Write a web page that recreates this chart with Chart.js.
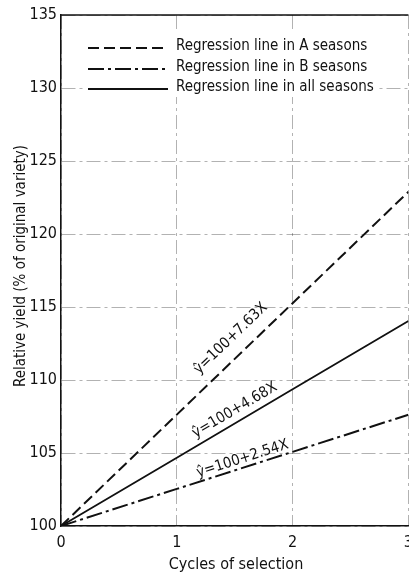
<!DOCTYPE html>
<html>
<head>
<meta charset="utf-8">
<script src="https://cdn.jsdelivr.net/npm/chart.js@4"></script>
<style>
  html, body { margin: 0; padding: 0; background: #fff; overflow: hidden; }
  #wrap { width: 409px; height: 577px; overflow: hidden; }
  canvas { display: block; }
</style>
</head>
<body>
<div id="wrap"><canvas id="c" width="420" height="577"></canvas></div>
<script>
// Cycles of selection (x) and relative yield of each regression line (y)
const cycles = [0, 1, 2, 3];
const yieldA = [100, 107.63, 115.26, 122.89];
const yieldB = [100, 102.54, 105.08, 107.62];
const yieldAll = [100, 104.68, 109.36, 114.04];

const xTickValues = [0, 1, 2, 3];
const yTickValues = [100, 105, 110, 115, 120, 125, 130, 135];

const seriesNames = [
  'Regression line in A seasons',
  'Regression line in B seasons',
  'Regression line in all seasons'
];
const equations = ['ŷ=100+7.63X', 'ŷ=100+2.54X', 'ŷ=100+4.68X'];

const xTitle = 'Cycles of selection';
const yTitle = 'Relative yield (% of original variety)';

// Styles
const INK = '#111';
const TEXT_FONT = "'DejaVu Sans Condensed', sans-serif";
const GRID = 'rgba(0,0,0,0.3)';
const GRID_DASH = [14, 4, 3, 4];
const lineStyles = [
  { dash: [11, 5], width: 2 },
  { dash: [16, 4, 3, 4], width: 2 },
  { dash: [], width: 1.8 }
];
// where each equation sits along its line: data x and distance above the line (px)
const eqPlacement = [
  { at: 1.57, lift: 17.5 },
  { at: 1.59, lift: 8.6 },
  { at: 1.55, lift: 11.4 }
];

const seriesValues = [yieldA, yieldB, yieldAll];
const datasets = seriesValues.map((vals, i) => ({
  label: seriesNames[i],
  data: cycles.map((c, k) => ({ x: c, y: vals[k] })),
  borderColor: INK,
  borderWidth: lineStyles[i].width,
  borderDash: lineStyles[i].dash,
  pointRadius: 0,
  fill: false,
  tension: 0
}));

const decorations = {
  id: 'decorations',
  afterDatasetsDraw(chart) {
    const ctx = chart.ctx;
    const xs = chart.scales.x, ys = chart.scales.y;
    const area = chart.chartArea;

    // top frame line
    ctx.save();
    ctx.strokeStyle = INK;
    ctx.lineWidth = 1.5;
    ctx.beginPath();
    ctx.moveTo(area.left, area.top);
    ctx.lineTo(area.right, area.top);
    ctx.stroke();

    // legend block with a white backing over the grid
    ctx.fillStyle = '#fff';
    ctx.fillRect(86, 31, 290, 66);
    const sampleX0 = 88, sampleX1 = 168, textX = 176;
    const rowY = [48, 69, 89];
    ctx.font = '15px ' + TEXT_FONT;
    ctx.textBaseline = 'middle';
    ctx.textAlign = 'left';
    ctx.fillStyle = INK;
    rowY.forEach((y, i) => {
      ctx.lineWidth = lineStyles[i].width;
      ctx.setLineDash(lineStyles[i].dash);
      ctx.beginPath();
      ctx.moveTo(sampleX0, y);
      ctx.lineTo(sampleX1, y);
      ctx.stroke();
      ctx.setLineDash([]);
      ctx.fillText(seriesNames[i], textX, y - 2);
    });

    // equation labels along each regression line
    ctx.font = '15px ' + TEXT_FONT;
    ctx.textAlign = 'center';
    ctx.textBaseline = 'middle';
    seriesValues.forEach((vals, i) => {
      const p0x = xs.getPixelForValue(cycles[0]), p0y = ys.getPixelForValue(vals[0]);
      const p1x = xs.getPixelForValue(cycles[3]), p1y = ys.getPixelForValue(vals[3]);
      const ang = Math.atan2(p1y - p0y, p1x - p0x);
      const t = eqPlacement[i].at;
      const slope = (vals[3] - vals[0]) / (cycles[3] - cycles[0]);
      const px = xs.getPixelForValue(t);
      const py = ys.getPixelForValue(vals[0] + slope * t);
      const d = eqPlacement[i].lift;
      const cx = px + Math.sin(ang) * d;
      const cy = py - Math.cos(ang) * d;
      ctx.save();
      ctx.translate(cx, cy);
      ctx.rotate(ang);
      ctx.fillText(equations[i], 0, 0);
      ctx.restore();
    });

    // axis titles
    ctx.font = '16px ' + TEXT_FONT;
    ctx.textAlign = 'center';
    ctx.textBaseline = 'middle';
    ctx.fillText(xTitle, 236, 565);
    ctx.save();
    ctx.translate(21, 266);
    ctx.rotate(-Math.PI / 2);
    ctx.font = '15px ' + TEXT_FONT;
    ctx.fillText(yTitle, 0, 0);
    ctx.restore();
    ctx.restore();
  }
};

const tickFont = { family: "'DejaVu Sans Condensed', sans-serif", size: 16 };

new Chart(document.getElementById('c'), {
  type: 'line',
  data: { datasets },
  options: {
    responsive: false,
    devicePixelRatio: 1,
    animation: false,
    layout: { padding: { left: 0, top: 15, right: 8, bottom: 0 } },
    plugins: { legend: { display: false }, tooltip: { enabled: false } },
    scales: {
      x: {
        type: 'linear',
        min: 0, max: 3,
        afterFit: s => { s.height = 51; },
        afterBuildTicks: s => { s.ticks = xTickValues.map(v => ({ value: v })); },
        ticks: { color: INK, font: tickFont, padding: 7, maxRotation: 0 },
        grid: { color: GRID, lineWidth: 1, drawTicks: false },
        border: { display: true, color: INK, width: 1.5, dash: GRID_DASH }
      },
      y: {
        type: 'linear',
        min: 100, max: 135,
        afterFit: s => { s.width = 61; },
        afterBuildTicks: s => { s.ticks = yTickValues.map(v => ({ value: v })); },
        ticks: { color: INK, font: tickFont, padding: 4 },
        grid: { color: GRID, lineWidth: 1, drawTicks: false },
        border: { display: true, color: INK, width: 1.5, dash: GRID_DASH }
      }
    }
  },
  plugins: [decorations]
});
</script>
</body>
</html>
